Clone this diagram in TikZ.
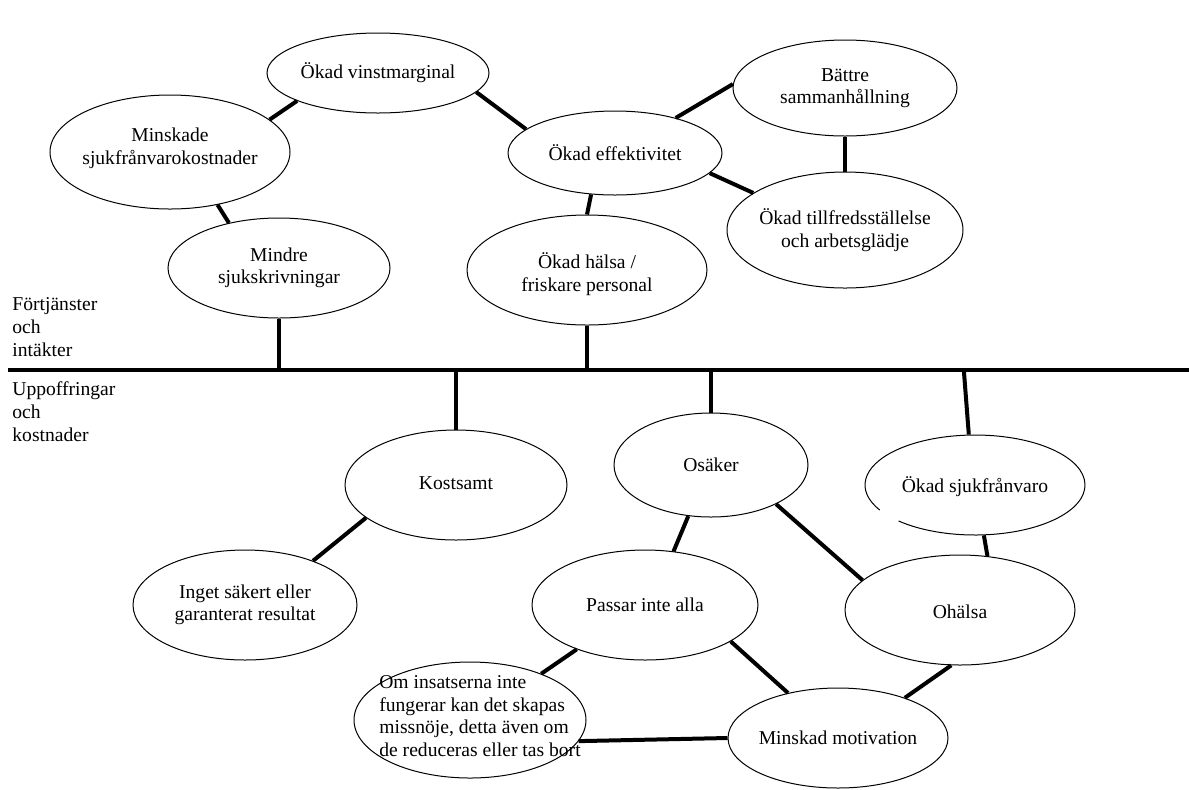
\documentclass[tikz,border=0pt]{standalone}
\usepackage{fontspec}
\setmainfont{Liberation Serif}
\usetikzlibrary{positioning,calc,shapes.geometric}
\tikzset{
  bubble/.style 2 args = {draw, ellipse, line width=0.5pt, minimum width=#1,
                          minimum height=#2, inner sep=0pt},
  txt/.style           = {font=\fontsize{9.8}{11.3}\selectfont, align=center, inner sep=0pt},
  link/.style          = {line width=2pt},
  axis/.style          = {line width=2pt},
  side/.style          = {font=\fontsize{9.8}{11.6}\selectfont, align=left,
                          anchor=north west, inner sep=0pt},
}

\begin{document}
\begin{tikzpicture}[x=0.5pt, y=-0.5pt]
  \useasboundingbox (0,0) rectangle (1189,789);
  % upper half
  \node[bubble={111pt}{40pt}, label={[txt]center:Ökad vinstmarginal}] (vinst) at (378,73) {};
  \node[bubble={120pt}{57pt}, label={[txt, yshift=2pt]center:Minskade\\sjukfrånvarokostnader}] (minsk) at (170,152) {};
  \node[bubble={111pt}{50pt}, label={[txt]center:Mindre\\sjukskrivningar}] (mindre) at (279,268) {};
  \node[bubble={107pt}{42pt}, label={[txt]center:Ökad effektivitet}] (effekt) at (615,153) {};
  \node[bubble={112pt}{48pt}, label={[txt]center:Bättre\\sammanhållning}] (battre) at (845,88) {};
  \node[bubble={118pt}{58pt}, label={[txt]center:Ökad tillfredsställelse\\och arbetsglädje}] (tillfr) at (845,230) {};
  \node[bubble={120pt}{55pt}, label={[txt, yshift=-2pt]center:Ökad hälsa /\\friskare personal}] (halsa) at (587,270) {};
  % lower half
  \node[bubble={111pt}{55pt}, label={[txt, yshift=1pt]center:Kostsamt}] (kost) at (456,485) {};
  \node[bubble={97pt}{52pt}, label={[txt]center:Osäker}] (osak) at (711,465) {};
  \node[bubble={110pt}{50pt}, draw=none, label={[txt, yshift=-1pt]center:Ökad sjukfrånvaro}] (sjuk) at (975,485) {};
  \draw[line width=0.5pt] (sjuk.center) ++(226:55pt and 25pt)
    arc[start angle=226, end angle=570, x radius=55pt, y radius=25pt];
  \node[bubble={112pt}{55pt}, label={[txt]center:Inget säkert eller\\garanterat resultat}] (inget) at (245,605) {};
  \node[bubble={113pt}{55pt}, label={[txt]center:Passar inte alla}] (passar) at (645,605) {};
  \node[bubble={115pt}{55pt}, label={[txt, yshift=-1pt]center:Ohälsa}] (ohalsa) at (960,610) {};
  \node[bubble={116pt}{58pt}, label={[txt, align=left, xshift=5pt, yshift=2pt]center:Om insatserna inte\\fungerar kan det skapas\\missnöje, detta även om\\de reduceras eller tas bort}] (insats) at (470,720) {};
  \node[bubble={110pt}{50pt}, label={[txt]center:Minskad motivation}] (motiv) at (838,738) {};

  \node[side] (gain) at (12,297) {Förtjänster\\och\\intäkter};
  \node[side] (cost) at (12,381) {Uppoffringar\\och\\kostnader};

  \coordinate (axisL) at (8,370);
  \coordinate (axisR) at (1189,370);
  \draw[axis] (axisL) -- (axisR);

  % links
  \draw[link] (vinst.199) -- (minsk.18);
  \draw[link] (vinst.-11) -- (effekt.165);
  \draw[link] (minsk.-48) -- (mindre.138);
  \draw[link] (mindre.south) -- (mindre.south |- axisL);
  \draw[link] (effekt.30) -- (battre.178);
  \draw[link] (battre.south) -- (tillfr.north);
  \draw[link] (effekt.-12) -- (tillfr.158);
  \draw[link] (effekt.-120) -- (halsa.north);
  \draw[link] (halsa.south) -- (halsa.south |- axisL);
  \draw[link] (kost.north) -- (kost.north |- axisL);
  \draw[link] (osak.north) -- (osak.north |- axisL);
  \draw[link] (sjuk.97) -- ($(sjuk.97 |- axisL)+(-5,0)$);
  \draw[link] (kost.200) -- (inget.33);
  \draw[link] (osak.-114) -- (passar.62);
  \draw[link] (osak.-31) -- (ohalsa.163);
  \draw[link] (sjuk.-80) -- (ohalsa.63);
  \draw[link] (passar.-23) -- (motiv.138);
  \draw[link] (passar.-147) -- (insats.33);
  \draw[link] (ohalsa.-99) -- (motiv.31);
  \draw[link] (insats.-11) -- (motiv.180);
\end{tikzpicture}
\end{document}
